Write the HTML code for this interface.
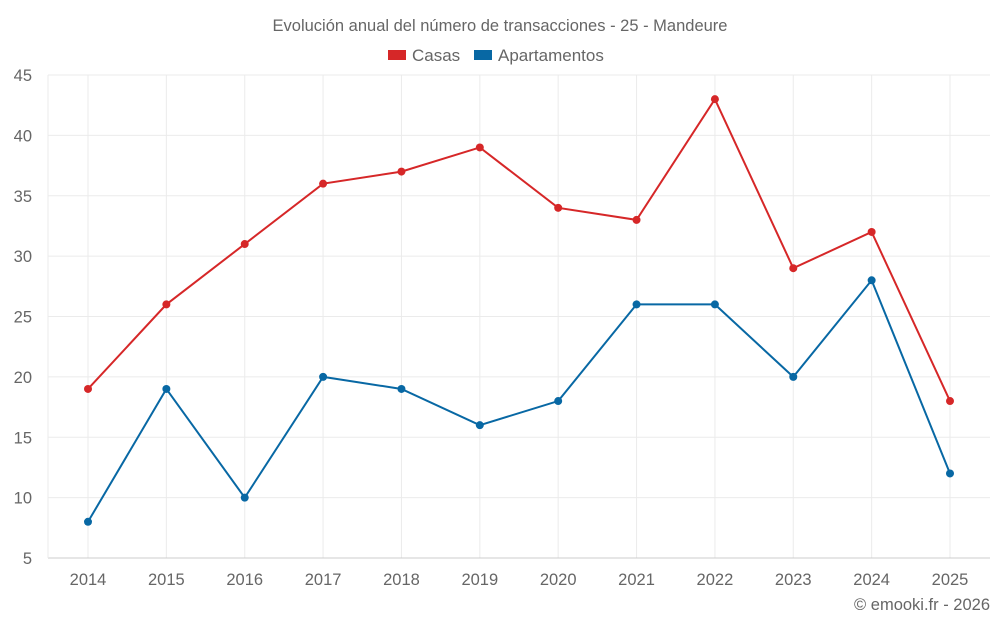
<!DOCTYPE html>
<html><head><meta charset="utf-8"><style>
body{margin:0;background:#fff;font-family:"Liberation Sans",sans-serif;}
svg text{font-family:"Liberation Sans",sans-serif;fill:#666;}
</style></head><body>
<svg id="chart" width="1000" height="625">
<text x="500" y="31" text-anchor="middle" font-size="16.5">Evolución anual del número de transacciones - 25 - Mandeure</text>
<g>
<g><rect x="388" y="50" width="18" height="10" fill="#d62728"/><text x="412" y="61" font-size="17">Casas</text></g>
<g><rect x="474" y="50" width="18" height="10" fill="#0868a4"/><text x="498" y="61" font-size="17">Apartamentos</text></g>
</g>
<g id="grid"></g><g id="axes"></g><g id="series"></g>
<text x="990" y="610" text-anchor="end" font-size="16.5">© emooki.fr - 2026</text>
</svg>
<script>
const years=[2014,2015,2016,2017,2018,2019,2020,2021,2022,2023,2024,2025];
const casas=[19,26,31,36,37,39,34,33,43,29,32,18];
const apartamentos=[8,19,10,20,19,16,18,26,26,20,28,12];
const yTicks=[5,10,15,20,25,30,35,40,45];
const NS="http://www.w3.org/2000/svg";
const L=48,R=990,T=75,B=558;
const x=i=>88+i*(950-88)/(years.length-1);
const y=v=>B-(v-5)/(45-5)*(B-T);
function mk(tag,attrs,parent){const e=document.createElementNS(NS,tag);for(const k in attrs)e.setAttribute(k,attrs[k]);parent.appendChild(e);return e;}
const grid=document.getElementById('grid'),axes=document.getElementById('axes'),ser=document.getElementById('series');
yTicks.forEach(t=>{
 const l=mk('line',{x1:L,x2:R,y1:y(t),y2:y(t),stroke:'#ebebeb'},grid);
 
 
 const tx=mk('text',{x:32,y:y(t)+6,'text-anchor':'end','font-size':16.5},axes);
 tx.textContent=t;
 
 
});
years.forEach((yr,i)=>{
 const l=mk('line',{x1:x(i),x2:x(i),y1:T,y2:B,stroke:'#ebebeb'},grid);
 
 
 const tx=mk('text',{x:x(i),y:585,'text-anchor':'middle','font-size':16.5},axes);
 tx.textContent=yr;
 
 
});
const ax=mk('line',{x1:L,x2:R,y1:B,y2:B,stroke:'#ccc'},axes);


const ax2=mk('line',{x1:L,x2:L,y1:T,y2:B,stroke:'#ebebeb'},axes);


function draw(vals,color,name){
 const p=mk('polyline',{points:vals.map((v,i)=>x(i)+','+y(v)).join(' '),fill:'none',stroke:color,'stroke-width':2},ser);
 
 
 vals.forEach((v,i)=>{
  const c=mk('circle',{cx:x(i),cy:y(v),r:4,fill:color},ser);
  
  
 });
}
draw(casas,'#d62728','casas');
draw(apartamentos,'#0868a4','apartamentos');
</script>
</body></html>
